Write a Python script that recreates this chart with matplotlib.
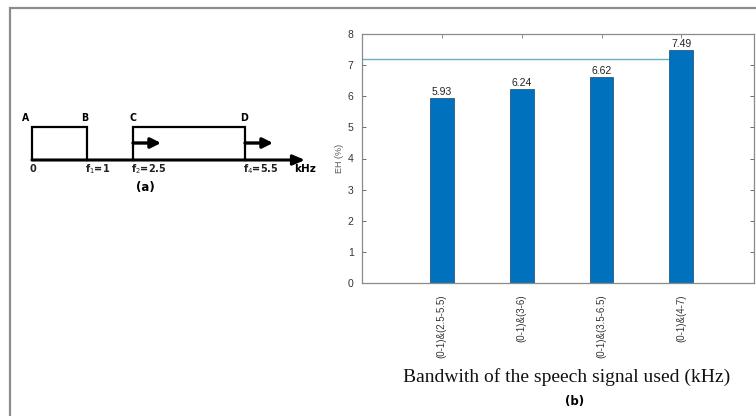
import matplotlib
matplotlib.use("Agg")
from matplotlib import pyplot as plt
import numpy as np

# bar chart data
bands = ['(0-1)&(2.5-5.5)', '(0-1)&(3-6)', '(0-1)&(3.5-6.5)', '(0-1)&(4-7)']
scores = [5.93, 6.24, 6.62, 7.49]
ref_level = 7.2

# band diagram: edge frequencies (kHz) and their labels
edges_khz = [0, 1, 2.5, 5.5]
edge_labels = ['0', 'f$_1$=1', 'f$_2$=2.5', 'f$_4$=5.5']
corner_labels = ['A', 'B', 'C', 'D']

fig = plt.figure(figsize=(7.56, 4.16), dpi=100)
fig.patch.set_facecolor('white')

# full-figure overlay in pixel units for the frame and the schematic
ov = fig.add_axes([0, 0, 1, 1])
ov.set_xlim(0, 756)
ov.set_ylim(416, 0)
ov.axis('off')

ov.plot([9.5, 9.5, 756], [416, 7.5, 7.5], color='#8c8c8c', lw=1.6,
        solid_capstyle='butt', solid_joinstyle='miter')

# schematic layout (not to scale)
def fx(f):
    return np.interp(f, [0, 1, 2.5, 5.5, 6.5], [32, 87, 133, 245, 296])

base_y, top_y = 160, 127
bold = dict(fontweight='bold', family='DejaVu Sans', color='black')

ov.annotate('', xy=(305, base_y), xytext=(fx(0), base_y),
            arrowprops=dict(arrowstyle='-|>,head_length=0.7,head_width=0.3',
                            lw=2.2, color='black', shrinkA=0, shrinkB=0))
for lo, hi in [(edges_khz[0], edges_khz[1]), (edges_khz[2], edges_khz[3])]:
    ov.plot([fx(lo), fx(lo), fx(hi), fx(hi)], [base_y, top_y, top_y, base_y],
            color='black', lw=1.6, solid_joinstyle='miter')
# shift arrows on the upper band
for f in [edges_khz[2], edges_khz[3]]:
    ov.annotate('', xy=(fx(f) + 28, 143), xytext=(fx(f), 143),
                arrowprops=dict(arrowstyle='-|>,head_length=0.6,head_width=0.3',
                                lw=2.4, color='black', shrinkA=0, shrinkB=0))

for f, lab, dx in zip(edges_khz, corner_labels, [-6, -2, 0, -1]):
    ov.text(fx(f) + dx, 118, lab, ha='center', va='center', fontsize=7.5,
            family='DejaVu Sans', fontweight='bold', stretch='condensed')
for f, lab in zip(edges_khz, edge_labels):
    ha = 'center' if lab == '0' else 'left'
    ov.text(fx(f) + (1 if lab == '0' else -2), 169, lab, ha=ha, va='center',
            fontsize=7, family='DejaVu Sans', fontweight='bold', color='#222222')
ov.text(294, 169, 'kHz', ha='left', va='center', fontsize=7.5,
        family='DejaVu Sans', fontweight='bold')
ov.text(145, 188, '(a)', ha='center', va='center', fontsize=8.5, **bold)

# bar chart
ax = fig.add_axes([362 / 756, 1 - 283 / 416, (754 - 362) / 756, (283 - 34) / 416])
x = np.arange(1, len(scores) + 1)
ax.plot([0, x[-1] - 0.15], [ref_level, ref_level], color='#6aaec4', lw=1.0, zorder=1)
ax.bar(x, scores, width=0.3, color='#0072BD', edgecolor='#2a5a85', lw=0.6, zorder=2)
for xi, v in zip(x, scores):
    ax.text(xi, v + 0.04, f'{v:.2f}', ha='center', va='bottom', fontsize=7.5,
            family='Liberation Sans', color='#222222')

ax.set_xlim(0, 4.91)
ax.set_ylim(0, 8)
ax.set_yticks(range(0, 9))
ax.set_xticks(x)
ax.set_xticklabels(bands, rotation=90, fontsize=7, family='Liberation Sans',
                   color='#333333', va='top', ha='center')
ax.tick_params(axis='y', labelsize=7.5, colors='#555555', labelcolor='#333333',
               direction='in', right=True, length=3, width=0.6, pad=6)
ax.tick_params(axis='x', colors='#777777', labelcolor='#333333',
               direction='in', top=True, bottom=False, length=3, width=0.6, pad=8)
for lab in ax.get_yticklabels():
    lab.set_family('Liberation Sans')
for s in ax.spines.values():
    s.set_color('#8a8a8a')
    s.set_linewidth(0.9)

ax.set_ylabel('EH (%)', fontsize=6.5, family='Liberation Sans', color='#555555',
              labelpad=3)

fig.text(567 / 756, 1 - 377 / 416, 'Bandwith of the speech signal used (kHz)',
         ha='center', va='center', fontsize=14, family='Liberation Serif',
         color='#111111')
fig.text(575 / 756, 1 - 402 / 416, '(b)', ha='center', va='center',
         fontsize=8.5, **bold)

fig.savefig('out.png', dpi=100, facecolor='white')
